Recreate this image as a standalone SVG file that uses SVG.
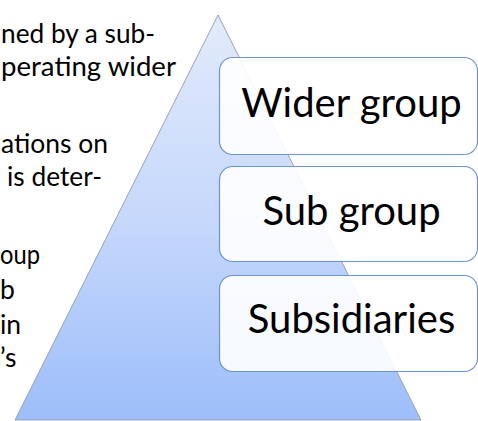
<svg xmlns="http://www.w3.org/2000/svg" width="478" height="421" viewBox="0 0 478 421">
  <style>
    .body { font-family: Lato, "Open Sans", "Liberation Sans", sans-serif; font-size: 26.5px; fill: #000; }
    .box { fill: #ffffff; fill-opacity: 0.9; stroke: #6a94d2; stroke-width: 1.2; }
    .lbl { font-family: Lato, "Open Sans", "Liberation Sans", sans-serif; font-size: 40px; fill: #000; text-anchor: middle; }
  </style>
  <defs>
    <linearGradient id="tri" x1="0" y1="0" x2="0" y2="1">
      <stop offset="0" stop-color="#e2ebfb"/>
      <stop offset="0.5" stop-color="#c6d8fb"/>
      <stop offset="1" stop-color="#9dbefa"/>
    </linearGradient>
  </defs>
  <rect width="478" height="421" fill="#ffffff"/>
  <g id="body-text" class="body">
    <text x="1" y="43" textLength="154" lengthAdjust="spacingAndGlyphs">ned by a sub-</text>
    <text x="1" y="76" textLength="175" lengthAdjust="spacingAndGlyphs">perating wider</text>
    <text x="1" y="153" textLength="107" lengthAdjust="spacingAndGlyphs">ations on</text>
    <text x="7" y="186" textLength="95" lengthAdjust="spacingAndGlyphs">is deter-</text>
    <text x="0" y="264" textLength="40" lengthAdjust="spacingAndGlyphs">oup</text>
    <text x="0" y="299">b</text>
    <text x="0" y="334">in</text>
    <text x="0" y="367">’s</text>
  </g>
  <g id="pyramid">
    <polygon points="218,15 421,420 15,420" fill="url(#tri)" stroke="#9aa3b0" stroke-width="1"/>
  </g>
  <g id="connectors"/>
  <g id="wider-group">
    <rect class="box" x="219.5" y="57.5" width="258" height="97" rx="13"/>
    <text class="lbl" x="351.5" y="117">Wider group</text>
  </g>
  <g id="sub-group">
    <rect class="box" x="219.5" y="166.5" width="258" height="95" rx="13"/>
    <text class="lbl" x="351.5" y="225">Sub group</text>
  </g>
  <g id="subsidiaries">
    <rect class="box" x="219.5" y="275.5" width="258" height="96" rx="13"/>
    <text class="lbl" x="351.5" y="333">Subsidiaries</text>
  </g>
</svg>
